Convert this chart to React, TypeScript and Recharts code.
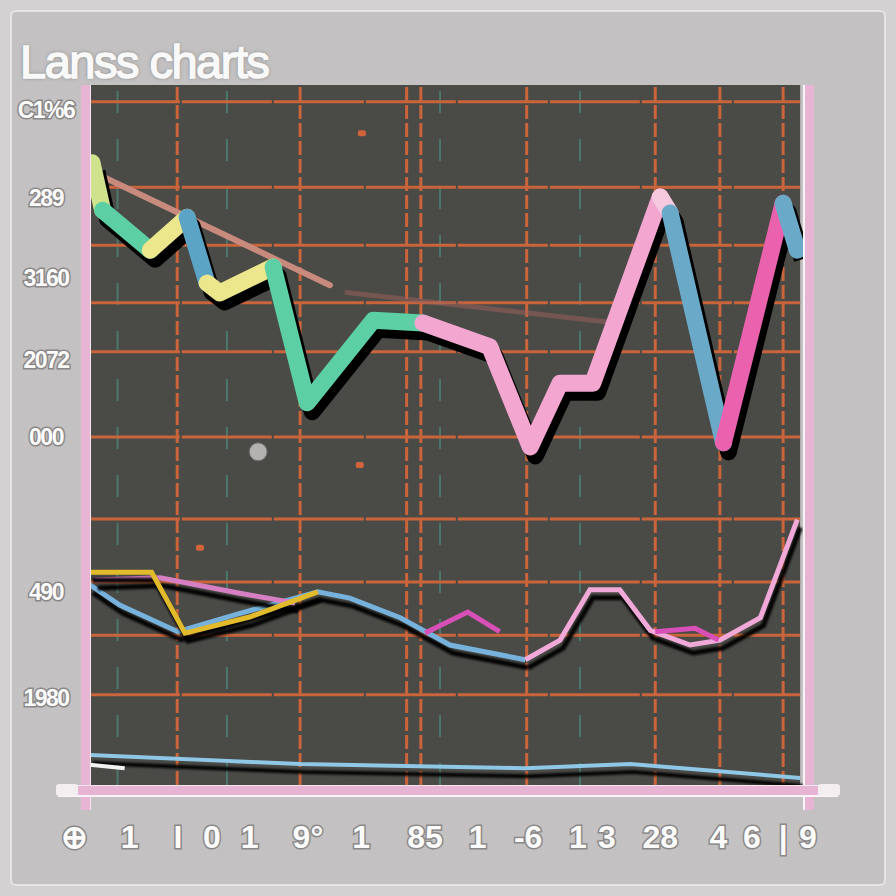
import { ComposedChart, Line, Scatter, XAxis, YAxis, ReferenceLine, ReferenceArea } from 'recharts';

// big multicolour line (x, y)
const bigX = [0.3, 1.8, 8.5, 13.7, 16.5, 18.3, 25.8, 30.6, 39.9, 46.9, 56.3, 62, 66.2, 70.8, 80.3, 81.7, 89.2, 97.6, 99.6];
const bigY = [88.9, 82.1, 76.4, 81.1, 71.7, 70.3, 74, 54.6, 66.4, 66, 62.6, 48.3, 57.4, 57.4, 84, 81.7, 48.9, 83.1, 76.4];
// point indexes where the colour changes
const bigBreaks = [0, 1, 2, 3, 4, 6, 9, 14, 15, 16, 17, 18];
const segColors = ['#cfe28c', '#5ccfa4', '#ece68c', '#5ba4c6', '#ece68c', '#5ccfa4', '#f2a6d0', '#f6c9de', '#6aa9c8', '#ea62ae', '#6aa9c8'];

// faint pinkish trend line
const trendX = [1.4, 33.8];
const trendY = [87.1, 71.4];
const trendFaintX = [35.9, 73.2];
const trendFaintY = [70.4, 66.1];

// lower thin lines
const blueX = [0, 4.2, 12.4, 20.4, 32.1, 36.6, 43.7, 50.7, 61.3];
const blueY = [28.6, 25.7, 21.9, 24.3, 27.6, 26.7, 23.9, 20, 17.9];
const pinkX = [61.3, 66.2, 70.4, 74.6, 78.9, 84.5, 88.7, 94.4, 99.6];
const pinkY = [17.9, 20.7, 27.9, 27.9, 22.1, 20, 20.7, 23.9, 37.9];
const yellowX = [0, 8.7, 13.4, 22.5, 32.1];
const yellowY = [30.4, 30.4, 21.7, 24, 27.6];
const rosyX = [0.7, 9.9, 21.1, 28.9];
const rosyY = [29.3, 29.6, 27.4, 26];
const magentaAX = [47.2, 53.2, 57.7];
const magentaAY = [21.7, 24.7, 21.9];
const magentaBX = [79.6, 85.2, 88.5];
const magentaBY = [21.9, 22.4, 20.7];
const baseX = [0, 29.6, 61.3, 76.1, 100];
const baseY = [4.3, 3, 2.4, 3, 1];
const whiteX = [0, 4.9];
const whiteY = [2.9, 2.4];

const greyDots = [{ x: 23.7, y: 47.6 }];
const orangeMarks = [{ x: 38.3, y: 93.1 }, { x: 15.5, y: 33.9 }, { x: 38, y: 45.7 }];

const gridY = [97.6, 85.4, 77.1, 68.9, 61.9, 49.7, 38, 29, 21.4, 12.9];
const gridX = [12.3, 29.6, 44.6, 46.6, 61.5, 79.6, 88.7, 97.6];
const tealX = [3.9, 19.3, 49.3, 69];

const leftTickVals = [96.4, 83.9, 72.4, 60.7, 49.7, 27.6, 12.4];
const leftTickLabels = ['C1%6', '289', '3160', '2072', '000', '490', '1980'];
const rightTickVals = [97.1, 83.9, 72.4, 61.4, 49.7, 38.3, 23.3, 12.4];
const rightTickLabels = ['1:30', '2180', '2800', '2:30', '2180', '2:30', '2.90', '2:60'];
const xTickVals = [-2.1, 5.6, 12.4, 17.2, 22.5, 30.7, 38.2, 47.2, 54.6, 61.7, 68.7, 72.8, 80.3, 88.5, 93.2, 97.6, 101.1];
const xTickLabels = ['⊕', '1', 'I', '0', '1', '9°', '1', '85', '1', '-6', '1', '3', '28', '4', '6', '|', '9'];

const rows = new Map<number, any>();
const put = (x: number, key: string, y: number) => {
  const r = rows.get(x) ?? { x };
  r[key] = y;
  rows.set(x, r);
};
bigX.forEach((x, i) => put(x, 'bigAll', bigY[i]));
for (let s = 0; s < bigBreaks.length - 1; s++) {
  for (let i = bigBreaks[s]; i <= bigBreaks[s + 1]; i++) put(bigX[i], 'seg' + s, bigY[i]);
}
const thin: Array<[string, number[], number[]]> = [
  ['trend', trendX, trendY],
  ['trendFaint', trendFaintX, trendFaintY],
  ['blue', blueX, blueY],
  ['pink', pinkX, pinkY],
  ['yellow', yellowX, yellowY],
  ['rosy', rosyX, rosyY],
  ['magA', magentaAX, magentaAY],
  ['magB', magentaBX, magentaBY],
  ['base', baseX, baseY],
  ['white', whiteX, whiteY],
];
thin.forEach(([k, xs, ys]) => xs.forEach((x, i) => put(x, k, ys[i])));
const data = [...rows.values()].sort((a, b) => a.x - b.x);

const labelFont = '"Liberation Sans", Arial, sans-serif';

const LeftTick = ({ y, payload }: any) => (
  <text x={46} y={y} dy={8} textAnchor="middle" fill="#fbfbfb" stroke="#8a8787" strokeWidth={3}
    paintOrder="stroke" fontSize={23} fontWeight="bold" fontFamily={labelFont} letterSpacing={-1.5}>
    {leftTickLabels[leftTickVals.indexOf(payload.value)]}
  </text>
);
const RightTick = ({ y, payload }: any) => (
  <text x={857} y={y} dy={8} textAnchor="middle" fill="#fbfbfb" stroke="#8a8787" strokeWidth={3}
    paintOrder="stroke" fontSize={23} fontWeight="bold" fontFamily={labelFont} letterSpacing={-1.5}>
    {rightTickLabels[rightTickVals.indexOf(payload.value)]}
  </text>
);
const BottomTick = ({ x, payload }: any) => (
  <text x={x} y={848} textAnchor="middle" fill="#fbfbfb" stroke="#8a8787" strokeWidth={3}
    paintOrder="stroke" fontSize={32} fontWeight="bold" fontFamily={labelFont}>
    {xTickLabels[xTickVals.indexOf(payload.value)]}
  </text>
);

const css = `
.shadowBig { transform: translate(5px, 9px); }
.thinShadow path { filter: drop-shadow(3px 8px 1px rgba(0,0,0,0.95)); }
`;

export default function App() {
  return (
    <div style={{ position: 'fixed', left: 0, top: 0, width: 896, height: 896, background: '#d3d1d1', overflow: 'hidden' }}>
      <style>{css}</style>
      <div style={{ position: 'absolute', left: 10, top: 10, width: 872, height: 872, background: '#c3c1c1',
        border: '2px solid #e6e4e4', borderRadius: 6 }} />
      <div style={{ position: 'absolute', left: 20, top: 34, fontFamily: labelFont, fontSize: 47, color: '#f8f8f8',
        letterSpacing: -1.5, WebkitTextStroke: '1.5px #fafafa', textShadow: '0 0 2px #6f6d6d, 0 0 4px #8f8d8d' }}>Lanss charts</div>
      <div style={{ position: 'absolute', left: 0, top: 0 }}>
        <ComposedChart width={896} height={896} data={data} margin={{ top: 85, right: 0, bottom: 0, left: 0 }}>
          <XAxis dataKey="x" type="number" domain={[-4.2, 104.2]} ticks={xTickVals} interval={0}
            height={111} axisLine={false} tickLine={false} tick={<BottomTick />} />
          <YAxis yAxisId="left" type="number" domain={[0, 100]} ticks={leftTickVals} interval={0}
            width={60} axisLine={false} tickLine={false} tick={<LeftTick />} />
          <YAxis yAxisId="right" orientation="right" type="number" domain={[0, 100]} ticks={rightTickVals} interval={0}
            width={66} axisLine={false} tickLine={false} tick={<RightTick />} />
          <ReferenceArea yAxisId="left" x1={0} x2={100} y1={0} y2={100} fill="#4a4a47" fillOpacity={1} stroke="none" />
          {tealX.map((v) => (
            <ReferenceLine key={'tx' + v} yAxisId="left" x={v} stroke="#4e9d8c" strokeWidth={2}
              strokeDasharray="22 26" strokeOpacity={0.55} />
          ))}
          {gridY.map((v) => (
            <ReferenceLine key={'gy' + v} yAxisId="left" segment={[{ x: 0, y: v }, { x: 100, y: v }]}
              stroke="#c9643b" strokeWidth={3} strokeDasharray="90 2" />
          ))}
          {gridX.map((v) => (
            <ReferenceLine key={'gx' + v} yAxisId="left" x={v} stroke="#c9643b" strokeWidth={3} strokeDasharray="14 4" />
          ))}
          <Line yAxisId="left" dataKey="trend" stroke="#c98a7e" strokeWidth={6} strokeLinecap="round" dot={false}
            activeDot={false} connectNulls isAnimationActive={false} />
          <Line yAxisId="left" dataKey="trendFaint" stroke="#a0615c" strokeOpacity={0.5} strokeWidth={5} dot={false}
            activeDot={false} connectNulls isAnimationActive={false} />
          <Line yAxisId="left" dataKey="bigAll" className="shadowBig" stroke="#000" strokeWidth={17}
            strokeLinejoin="round" dot={false} activeDot={false} connectNulls isAnimationActive={false} />
          {segColors.map((c, s) => (
            <Line key={'seg' + s} yAxisId="left" dataKey={'seg' + s} stroke={c} strokeWidth={17}
              strokeLinejoin="round" strokeLinecap="round" dot={false} activeDot={false} connectNulls isAnimationActive={false} />
          ))}
          <Line yAxisId="left" dataKey="base" className="thinShadow" stroke="#8fc7e6" strokeWidth={4} dot={false}
            activeDot={false} connectNulls isAnimationActive={false} />
          <Line yAxisId="left" dataKey="white" stroke="#f2f2f2" strokeWidth={4} dot={false}
            activeDot={false} connectNulls isAnimationActive={false} />
          <Line yAxisId="left" dataKey="blue" className="thinShadow" stroke="#76b2dc" strokeWidth={5} dot={false}
            activeDot={false} connectNulls isAnimationActive={false} />
          <Line yAxisId="left" dataKey="rosy" className="thinShadow" stroke="#d77fc3" strokeWidth={5} dot={false}
            activeDot={false} connectNulls isAnimationActive={false} />
          <Line yAxisId="left" dataKey="yellow" className="thinShadow" stroke="#e2bb2c" strokeWidth={5} dot={false}
            activeDot={false} connectNulls isAnimationActive={false} />
          <Line yAxisId="left" dataKey="pink" className="thinShadow" stroke="#f0a9d8" strokeWidth={5} dot={false}
            activeDot={false} connectNulls isAnimationActive={false} />
          <Line yAxisId="left" dataKey="magA" stroke="#d94fb8" strokeWidth={5} dot={false}
            activeDot={false} connectNulls isAnimationActive={false} />
          <Line yAxisId="left" dataKey="magB" stroke="#d94fb8" strokeWidth={5} dot={false}
            activeDot={false} connectNulls isAnimationActive={false} />
          <Scatter yAxisId="left" data={greyDots} dataKey="y" fill="#b4b2b0" isAnimationActive={false}
            shape={(p: any) => <circle cx={p.cx} cy={p.cy} r={9} fill="#b4b2b0" stroke="#6a6866" />} />
          <Scatter yAxisId="left" data={orangeMarks} dataKey="y" fill="#d2643c" isAnimationActive={false}
            shape={(p: any) => <rect x={p.cx - 4} y={p.cy - 3} width={8} height={6} rx={2} fill="#d2643c" />} />
        </ComposedChart>
      </div>
      {/* pink frame */}
      <div style={{ position: 'absolute', left: 81, top: 85, width: 9, height: 725, background: '#e8b4d4', borderRight: '1px solid #f6e6ef' }} />
      <div style={{ position: 'absolute', left: 803, top: 85, width: 9, height: 725, background: '#e8b4d4', borderLeft: '2px solid #faf4f7' }} />
      <div style={{ position: 'absolute', left: 58, top: 785, width: 780, height: 9, background: '#e8b4d4', borderTop: '1px solid #f6e6ef', borderBottom: '2px solid #faf4f7' }} />
      <div style={{ position: 'absolute', left: 56, top: 784, width: 22, height: 12, background: '#f4eef1', borderRadius: 3 }} />
      <div style={{ position: 'absolute', left: 818, top: 784, width: 22, height: 12, background: '#f4eef1', borderRadius: 3 }} />
    </div>
  );
}
